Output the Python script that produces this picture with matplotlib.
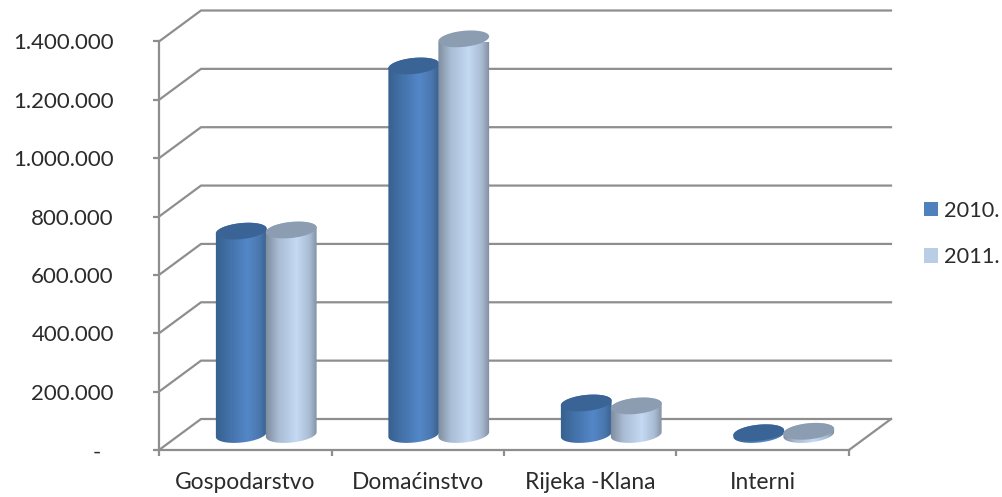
import numpy as np
import matplotlib
matplotlib.use("Agg")
import matplotlib.pyplot as plt
from matplotlib.colors import LinearSegmentedColormap
from matplotlib.patches import Patch, Polygon
from matplotlib.transforms import IdentityTransform

categories = ["Gospodarstvo", "Domaćinstvo", "Rijeka -Klana", "Interni"]
values_2010 = [697000, 1263000, 108000, 6000]
values_2011 = [701000, 1356000, 98000, 11000]
y_ticks = [0, 200000, 400000, 600000, 800000, 1000000, 1200000, 1400000]
y_labels = ["", "200.000", "400.000", "600.000", "800.000", "1.000.000", "1.200.000", "1.400.000"]
series_names = ["2010.", "2011."]

W, H = 1003, 497
GREY = "#8e8e8e"
TEXT = "#2b2b2b"
DEPTH_X, DEPTH_Y = 42, 31   # pixels from the front plane to the back wall
BAR_W = 50 / 172.5
A, B, TILT = 25.5, 8.0, np.radians(6)

plt.rcParams["font.family"] = "Lato"

fig = plt.figure(figsize=(W / 100, H / 100), dpi=100)
ax = fig.add_axes([159 / W, (H - 450) / H, 690 / W, 408.5 / H])
ax.set_xlim(0, 4)
ax.set_ylim(0, 1400000)
ax.set_autoscale_on(False)
ax.patch.set_visible(False)
for s in ["top", "right"]:
    ax.spines[s].set_visible(False)
for s in ["left", "bottom"]:
    ax.spines[s].set_color(GREY)
    ax.spines[s].set_linewidth(1.6)

ax.set_yticks(y_ticks)
ax.set_yticklabels(y_labels, fontsize=16, color=TEXT)
ax.set_xticks(range(5))
ax.set_xticklabels([])
ax.set_xticks(np.arange(4) + 0.5, categories, minor=True, fontsize=16.4, color=TEXT)
ax.tick_params(axis="both", which="major", length=4.5, width=1.6, color=GREY)
ax.tick_params(axis="x", which="minor", length=0, pad=16)
ax.tick_params(axis="y", pad=28)
ax.annotate("-", xy=(0, 0), xytext=(-58, -3), textcoords="offset pixels",
            ha="right", va="center", fontsize=16, color=TEXT)


def to_px(x, y):
    return ax.transData.transform((x, y))


# back wall and floor
pid = IdentityTransform()
for v in y_ticks:
    x0, y0 = to_px(0, v)
    x1, _ = to_px(4, v)
    ax.plot([x0, x0 + DEPTH_X, x1 + DEPTH_X], [y0, y0 + DEPTH_Y, y0 + DEPTH_Y],
            color=GREY, lw=1.6, transform=pid, clip_on=False, zorder=1)
x1, y1 = to_px(4, 0)
ax.plot([x1, x1 + DEPTH_X], [y1, y1 + DEPTH_Y], color=GREY, lw=1.6,
        transform=pid, clip_on=False, zorder=1)


def ellipse_arc(cx, cy, t):
    px = cx + A * np.cos(t) * np.cos(TILT) - B * np.sin(t) * np.sin(TILT)
    py = cy + A * np.cos(t) * np.sin(TILT) + B * np.sin(t) * np.cos(TILT)
    return np.column_stack([px, py])


def cylinder(x, value, side_colors, top_color, z):
    cx, base = to_px(x, 0)
    cx, top = to_px(x, value)
    cx += DEPTH_X / 2
    base += DEPTH_Y / 2
    top += DEPTH_Y / 2
    t0 = np.arctan2(-B * np.sin(TILT), A * np.cos(TILT))
    upper = ellipse_arc(cx, top, np.linspace(t0, t0 + np.pi, 60))
    lower = ellipse_arc(cx, base, np.linspace(t0 + np.pi, t0 + 2 * np.pi, 60))
    outline = Polygon(np.vstack([upper, lower]), closed=True, transform=pid,
                      facecolor="none", edgecolor="none")
    ax.add_patch(outline)
    cmap = LinearSegmentedColormap.from_list("side", side_colors)
    im = ax.imshow(np.linspace(0, 1, 64)[None, :], cmap=cmap, aspect="auto",
                   extent=(cx - A - 1, cx + A + 1, base - 12, top + 12),
                   transform=pid, zorder=z, interpolation="bilinear")
    im.set_clip_path(outline)
    cap = ellipse_arc(cx, top, np.linspace(0, 2 * np.pi, 120))
    ax.add_patch(Polygon(cap, closed=True, transform=pid, facecolor=top_color,
                         edgecolor="none", zorder=z + 0.1, clip_on=False))


blue_side = [(0, "#36608f"), (0.62, "#5487c8"), (0.85, "#4a77ae"), (1, "#38608e")]
light_side = [(0, "#7c8a9b"), (0.25, "#a9bcd4"), (0.6, "#c4d9f2"), (0.85, "#a9bcd4"), (1, "#7f8d9d")]

for i in range(len(categories)):
    z = 3 + i
    cylinder(i + 0.5 - BAR_W / 2, values_2010[i], blue_side, "#3a6496", z)
    cylinder(i + 0.5 + BAR_W / 2, values_2011[i], light_side, "#8c9cb1", z + 0.3)

handles = [Patch(facecolor="#4f81bd", label=series_names[0]),
           Patch(facecolor="#b9cde5", label=series_names[1])]
fig.legend(handles=handles, loc="center left", bbox_to_anchor=(904 / W, (H - 234) / H),
           frameon=False, fontsize=15.7, handlelength=0.65, handleheight=0.65,
           handletextpad=0.27, labelspacing=1.22, labelcolor=TEXT)

ax.set_xlim(0, 4)
ax.set_ylim(0, 1400000)
fig.savefig("out.png", dpi=100)
